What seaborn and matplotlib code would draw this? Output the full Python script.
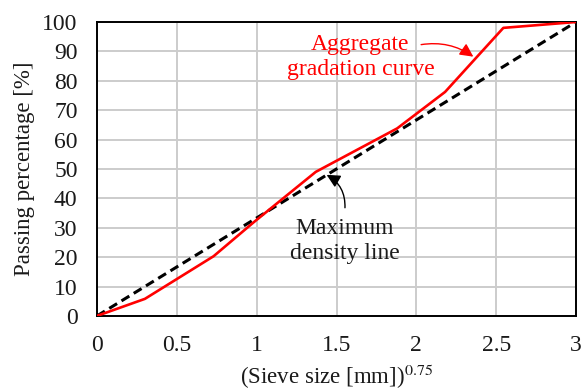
import matplotlib
matplotlib.use("Agg")
import matplotlib.pyplot as plt
import seaborn as sns
import pandas as pd

# Aggregate gradation curve: x = (sieve size [mm])^0.75, y = passing [%]
grad_x = [0.0, 0.30, 0.73, 0.98, 1.37, 1.88, 2.18, 2.545, 3.0]
grad_y = [0.0, 5.8, 20.3, 31.8, 49.0, 63.8, 76.2, 98.0, 100.0]

# Maximum density line (straight line from origin to the maximum size)
mdl_x = [0.0, 3.0]
mdl_y = [0.0, 100.0]

x_ticks = [0, 0.5, 1, 1.5, 2, 2.5, 3]
x_tick_labels = ["0", "0.5", "1", "1.5", "2", "2.5", "3"]
y_ticks = [0, 10, 20, 30, 40, 50, 60, 70, 80, 90, 100]

grad_df = pd.DataFrame({"x": grad_x, "y": grad_y})
mdl_df = pd.DataFrame({"x": mdl_x, "y": mdl_y})

sns.set_theme(style="whitegrid")
plt.rcParams["font.family"] = ["Liberation Serif", "DejaVu Serif"]
plt.rcParams["mathtext.fontset"] = "stix"

fig, ax = plt.subplots(figsize=(5.83, 3.90), dpi=100)
fig.subplots_adjust(left=0.1664, right=0.988, bottom=0.19, top=0.9436)

sns.lineplot(data=mdl_df, x="x", y="y", ax=ax, color="black",
             linewidth=2.2, linestyle=(0, (3.0, 1.7)), zorder=3)
sns.lineplot(data=grad_df, x="x", y="y", ax=ax, color="#ff0000",
             linewidth=1.9, zorder=4)

ax.set_xlim(0, 3)
ax.set_ylim(0, 100)
ax.set_xticks(x_ticks)
ax.set_xticklabels(x_tick_labels)
ax.set_yticks(y_ticks)

ax.grid(True, color="#cccccc", linewidth=1.4)
ax.set_facecolor("white")
for s in ax.spines.values():
    s.set_visible(True)
    s.set_color("black")
    s.set_linewidth(1.4)
ax.tick_params(axis="both", length=0, labelsize=17, colors="#1a1a1a")
ax.tick_params(axis="x", pad=14)
ax.tick_params(axis="y", pad=14)

ax.set_xlabel("(Sieve size [mm])$^{0.75}$", fontsize=16.5, color="#1a1a1a", labelpad=4)
ax.set_ylabel("Passing percentage [%]", fontsize=16.5, color="#1a1a1a", labelpad=5)

# Labels
ax.text(1.65, 88, "Aggregate\ngradation curve", ha="center", va="center",
        fontsize=17, color="#ff0000", linespacing=1.25, zorder=5)
ax.text(1.553, 25.5, "Maximum\ndensity line", ha="center", va="center",
        fontsize=17, color="#1a1a1a", linespacing=1.25, zorder=5)

# Curved leader arrows
ax.annotate("", xy=(2.357, 88.2), xytext=(2.03, 92.3),
            arrowprops=dict(arrowstyle="-|>", color="#ff0000", lw=1.0,
                            mutation_scale=20, shrinkA=0, shrinkB=0,
                            connectionstyle="arc3,rad=-0.2"), zorder=5)
ax.annotate("", xy=(1.438, 48.0), xytext=(1.553, 36.8),
            arrowprops=dict(arrowstyle="-|>", color="black", lw=1.0,
                            mutation_scale=20, shrinkA=0, shrinkB=0,
                            connectionstyle="arc3,rad=0.3"), zorder=5)

fig.savefig("out.png", dpi=100, facecolor="white")
